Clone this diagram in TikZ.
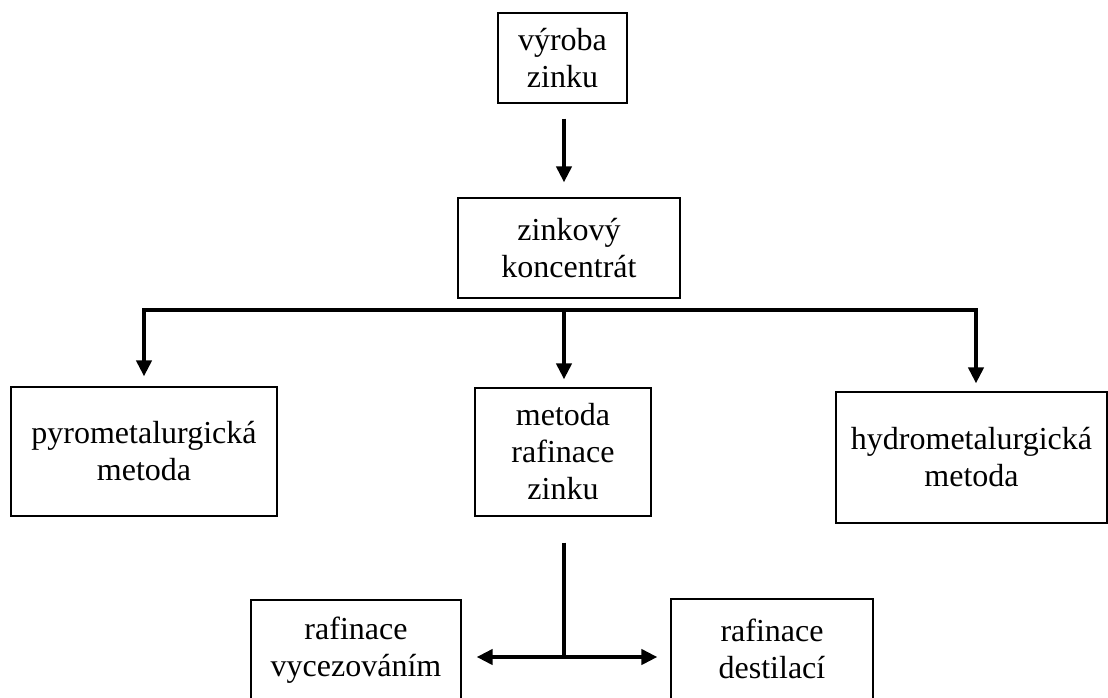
\documentclass[tikz,border=0pt]{standalone}
\usepackage{fontspec}
\setmainfont{Liberation Serif}
\usetikzlibrary{arrows.meta}
\tikzset{
  box/.style={draw=black, line width=1.2pt, inner sep=0pt, align=center,
    font=\fontsize{32}{37}\selectfont},
  txt/.style={inner sep=0pt, align=center, font=\fontsize{32}{37}\selectfont},
  ln/.style={line width=4pt},
  arr/.style={line width=4pt, -{Triangle[length=16pt,width=15pt]}},
}
\begin{document}
\begin{tikzpicture}[x=1pt,y=-1pt]
\clip (0,0) rectangle (1108,697);
\fill[white] (0,0) rectangle (1108,697);
\node[box, minimum width=129pt, minimum height=90pt] (vyroba) at (562.5,58) {výroba\\zinku};
\node[box, minimum width=222pt, minimum height=100pt] (konc) at (569,248) {zinkový\\koncentrát};
\node[box, minimum width=266pt, minimum height=129pt] (pyro) at (144,451.5) {pyrometalurgická\\metoda};
\node[box, minimum width=176pt, minimum height=128pt] (rafz) at (563,452) {metoda\\rafinace\\zinku};
\node[box, minimum width=271pt, minimum height=131pt] (hydro) at (971.5,457.5) {hydrometalurgická\\metoda};
\node[box, minimum width=210pt, minimum height=130pt] (vyc) at (356,665) {};
\node[txt] (vyct) at (356,650) {rafinace\\vycezováním};
\node[box, minimum width=202pt, minimum height=130pt] (dest) at (772,664) {};
\node[txt] (destt) at (772,649) {rafinace\\destilací};
\coordinate (bus) at (564,310);
\coordinate (split) at (564,657);
\draw[arr, shorten <=15pt, shorten >=15pt] (vyroba.south -| bus) -- (konc.north -| bus);
\draw[arr, shorten >=10pt] (bus) -| (pyro.north);
\draw[arr, shorten >=8pt] (bus) -| ([xshift=4.5pt]hydro.north);
\draw[arr, shorten >=8pt] (bus) -- (rafz.north -| bus);
\draw[ln, shorten <=26pt] (rafz.south -| split) -- (split);
\draw[arr, shorten >=15pt] (split) -- (vyc.east |- split);
\draw[arr, shorten >=13pt] (split) -- (dest.west |- split);
\end{tikzpicture}
\end{document}
